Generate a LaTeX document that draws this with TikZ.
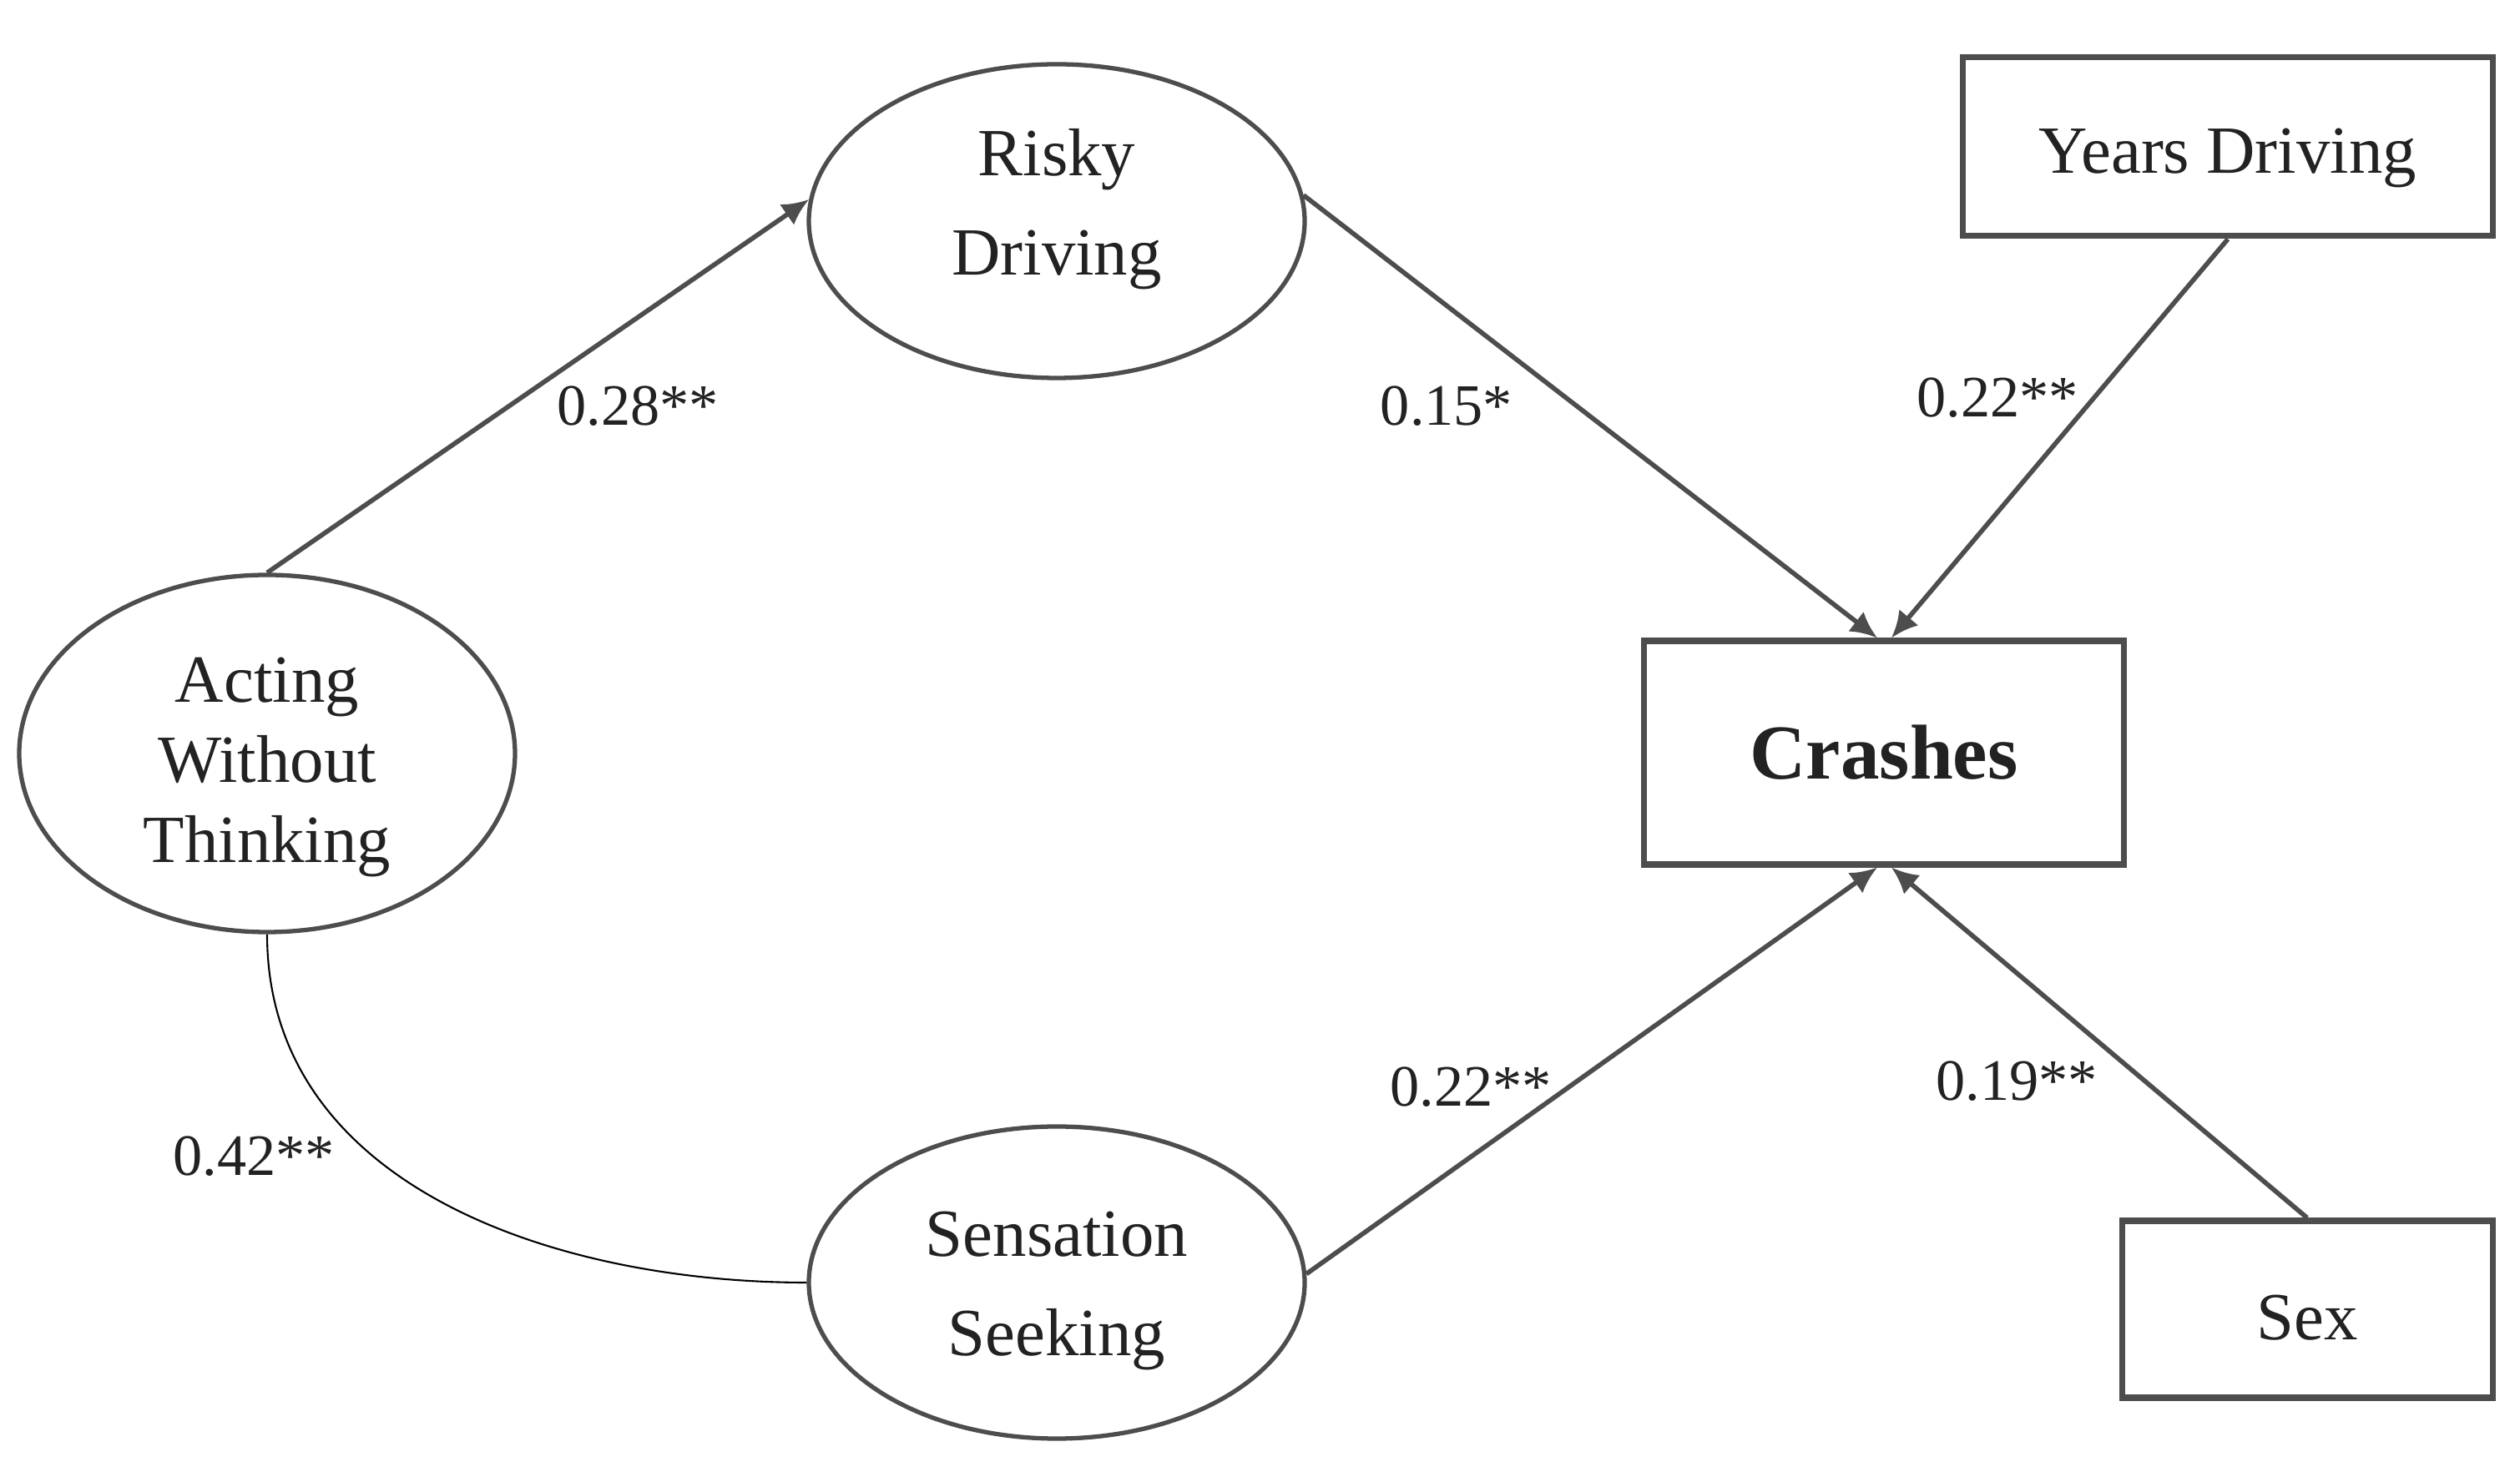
\documentclass[tikz,border=0pt]{standalone}
\usepackage{fontspec}
\setmainfont{Liberation Serif}
\usepackage{tikz}
\usetikzlibrary{shapes.geometric,arrows.meta}

\definecolor{linegray}{RGB}{77,77,77}
\definecolor{textgray}{RGB}{34,34,34}

% node text moved up or down a little
\newcommand{\shifted}[2]{\raisebox{#1}[\height][\depth]{\begin{tabular}{@{}c@{}}#2\end{tabular}}}

\tikzset{
  latent/.style={ellipse, draw=linegray, line width=1.5pt, align=center, text=textgray,
    font=\fontsize{23}{34}\selectfont, inner sep=0pt},
  observed/.style={rectangle, draw=linegray, line width=2pt, align=center, text=textgray,
    font=\fontsize{23}{28}\selectfont, inner sep=0pt},
  path/.style={draw=linegray, line width=1.6pt, -{Latex[length=3.2mm,width=3mm]}},
  coef/.style={text=textgray, font=\fontsize{20}{24}\selectfont, inner sep=0pt}
}

\begin{document}
\begin{tikzpicture}
\useasboundingbox (0,0) rectangle (30.19,17.75);

% latent factors
\node[latent, minimum width=5.94cm, minimum height=3.76cm] (risk) at (12.66,15.10) {\shifted{1.9mm}{Risky\\Driving}};
\node[latent, minimum width=5.94cm, minimum height=4.28cm, font=\fontsize{23}{27.3}\selectfont] (act) at (3.20,8.72) {\shifted{-1.5mm}{Acting\\Without\\Thinking}};
\node[latent, minimum width=5.94cm, minimum height=3.74cm] (sen) at (12.66,2.38) {\shifted{-0.4mm}{Sensation\\Seeking}};

% observed variables
\node[observed, minimum width=5.75cm, minimum height=2.68cm, font=\fontsize{26.5}{30}\selectfont\bfseries] (crash) at (22.57,8.73) {Crashes};
\node[observed, minimum width=6.35cm, minimum height=2.14cm] (yrs) at (26.69,15.99) {\shifted{-1.15mm}{Years Driving}};
\node[observed, minimum width=4.44cm, minimum height=2.12cm] (sex) at (27.64,2.06) {\shifted{-1.7mm}{Sex}};

% paths
\draw[path] (act.north) -- (risk.175);
\draw[path] (risk.6) -- ([xshift=-0.8mm]crash.north);
\draw[path] (yrs.south) -- ([xshift=0.9mm]crash.north);
\draw[path] (sen.2) -- ([xshift=-0.8mm]crash.south);
\draw[path] (sex.north) -- ([xshift=0.9mm]crash.south);

% correlation
\draw[black, line width=0.6pt] (act.south) to[out=-90, in=180] (sen.west);

% coefficients
\node[coef] (c1) at (7.64,12.88) {0.28**};
\node[coef] (c2) at (17.33,12.88) {0.15*};
\node[coef] (c3) at (23.93,12.98) {0.22**};
\node[coef] (c4) at (17.62,4.72) {0.22**};
\node[coef] (c5) at (24.16,4.79) {0.19**};
\node[coef] (c6) at (3.04,3.89) {0.42**};
\end{tikzpicture}
\end{document}
